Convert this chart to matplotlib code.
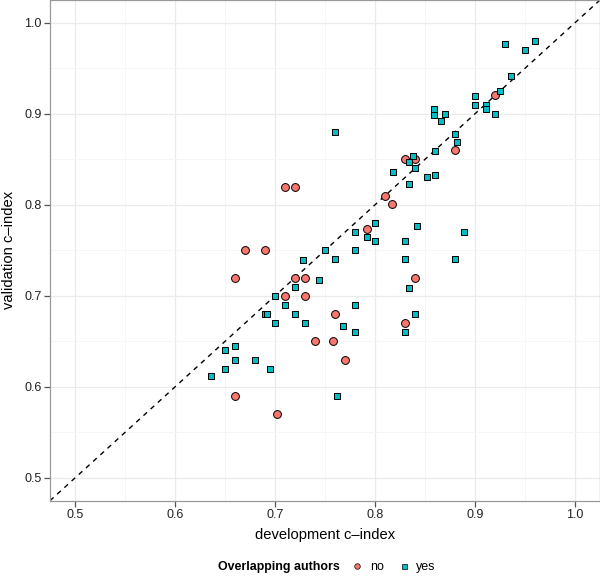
import numpy as np
import matplotlib.pyplot as plt
from matplotlib.ticker import MultipleLocator
from matplotlib.lines import Line2D

plt.rcParams['font.family'] = ['Liberation Sans', 'DejaVu Sans']

# no overlapping authors (circles)
no_dev = [0.71, 0.72, 0.67, 0.69, 0.66, 0.72, 0.73, 0.71, 0.73, 0.74, 0.758, 0.76,
          0.77, 0.66, 0.702, 0.83, 0.84, 0.88, 0.92, 0.81, 0.817, 0.792, 0.84, 0.83]
no_val = [0.82, 0.82, 0.75, 0.75, 0.72, 0.72, 0.72, 0.70, 0.70, 0.65, 0.65, 0.68,
          0.63, 0.59, 0.57, 0.85, 0.85, 0.86, 0.921, 0.81, 0.801, 0.773, 0.72, 0.67]

# overlapping authors (squares)
yes_dev = [0.75, 0.728, 0.76, 0.7435, 0.72, 0.70, 0.71, 0.69, 0.692, 0.72, 0.70, 0.73,
           0.66, 0.65, 0.66, 0.68, 0.65, 0.695, 0.636, 0.762,
           0.838, 0.834, 0.86, 0.818, 0.84, 0.852, 0.86, 0.834, 0.80, 0.78, 0.792, 0.80,
           0.78, 0.842, 0.83, 0.889, 0.83, 0.88, 0.834, 0.78, 0.84, 0.768, 0.78, 0.83,
           0.93, 0.96, 0.95, 0.936, 0.925, 0.90, 0.90, 0.911, 0.911, 0.92, 0.859, 0.859,
           0.87, 0.866, 0.88, 0.882, 0.76]
yes_val = [0.75, 0.739, 0.74, 0.717, 0.71, 0.70, 0.69, 0.68, 0.68, 0.68, 0.67, 0.67,
           0.645, 0.64, 0.63, 0.63, 0.62, 0.62, 0.612, 0.59,
           0.854, 0.847, 0.859, 0.836, 0.84, 0.831, 0.833, 0.823, 0.78, 0.77, 0.765, 0.76,
           0.75, 0.777, 0.76, 0.77, 0.74, 0.74, 0.709, 0.69, 0.68, 0.667, 0.66, 0.66,
           0.977, 0.98, 0.97, 0.942, 0.9245, 0.92, 0.91, 0.91, 0.905, 0.90, 0.905, 0.899,
           0.90, 0.892, 0.878, 0.869, 0.88]

red = '#F8766D'
teal = '#00BFC4'

fig = plt.figure(figsize=(6, 5.83), dpi=100)
ax = fig.add_axes([50 / 600, 1 - 500.7 / 583, 550 / 600, 500.7 / 583])

ax.set_xlim(0.475, 1.025)
ax.set_ylim(0.475, 1.025)
ax.xaxis.set_major_locator(MultipleLocator(0.1))
ax.yaxis.set_major_locator(MultipleLocator(0.1))
ax.xaxis.set_minor_locator(MultipleLocator(0.05))
ax.yaxis.set_minor_locator(MultipleLocator(0.05))
ax.grid(which='major', color='#EBEBEB', lw=0.9)
ax.grid(which='minor', color='#F5F5F5', lw=0.6)
ax.set_axisbelow(True)
ax.tick_params(which='minor', length=0)
ax.tick_params(which='major', length=4, width=0.9, color='#555555',
               labelsize=9, labelcolor='#222222', pad=2)
for s in ax.spines.values():
    s.set_color('#999999')
    s.set_linewidth(0.9)

ax.axline((0, 0), (1, 1), color='black', lw=1.0, ls=(0, (3.5, 3.5)), zorder=2)

ax.scatter(no_dev, no_val, s=32, marker='o', facecolor=red, edgecolor='black',
           linewidth=0.7, zorder=3)
ax.scatter(yes_dev, yes_val, s=25, marker='s', facecolor=teal, edgecolor='black',
           linewidth=0.7, zorder=3)

ax.set_xlabel('development c\u2013index', fontsize=10.6, labelpad=5)
ax.set_ylabel('validation c\u2013index', fontsize=10.6, labelpad=6)

# legend at the bottom, title on the left
fig.text(340 / 600, 1 - 567 / 583, 'Overlapping authors', fontsize=8.9,
         fontweight='bold', ha='right', va='center')
handles = [
    Line2D([], [], marker='o', ls='none', markersize=4, markerfacecolor=red,
           markeredgecolor='black', markeredgewidth=0.5),
    Line2D([], [], marker='s', ls='none', markersize=3.6, markerfacecolor=teal,
           markeredgecolor='black', markeredgewidth=0.5),
]
fig.legend(handles, ['no', 'yes'], loc='center left',
           bbox_to_anchor=(351 / 600, 1 - 567 / 583), ncol=2, frameon=False,
           fontsize=9, handlelength=1.0, handletextpad=0.5, columnspacing=1.1,
           borderpad=0, borderaxespad=0)

fig.savefig('out.png', dpi=100)
